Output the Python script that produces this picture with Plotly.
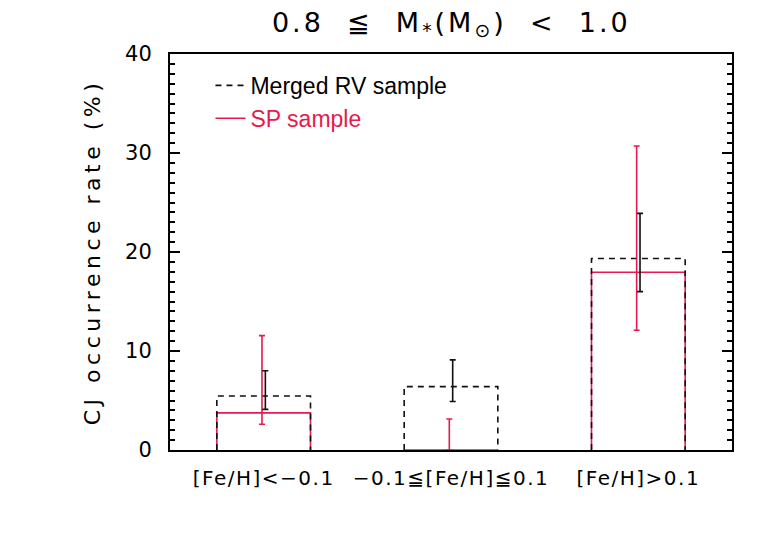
"""CJ occurrence rate vs metallicity, 0.8 <= M* < 1.0."""
import plotly.graph_objects as go

# categories / tick labels
BIN_LABELS = [
    "[Fe/H]&lt;\u22120.1",
    "\u22120.1\u2266[Fe/H]\u22660.1",
    "[Fe/H]&gt;0.1",
]

# Merged RV sample (black dashed)
RV_RATE = [5.45, 6.4, 19.35]
RV_ERR_UP = [2.55, 2.7, 4.55]
RV_ERR_DOWN = [1.35, 1.5, 3.35]

# SP sample (red solid)
SP_RATE = [3.75, 0.0, 17.95]
SP_ERR_UP = [7.8, 3.13, 12.75]
SP_ERR_DOWN = [1.15, 0.0, 5.85]

RED = "#e61a4c"
BLACK = "#111111"
FONT_AX = "DejaVu Sans"
FONT_LEG = "Liberation Sans"

BAR_HALF = 0.25
ERR_SHIFT = 0.009


def _outline(values):
    xs, ys = [], []
    for i, v in enumerate(values):
        c = i + 0.5
        xs += [c - BAR_HALF, c - BAR_HALF, c + BAR_HALF, c + BAR_HALF, None]
        ys += [0, v, v, 0, None]
    return xs, ys


def _wide(text, sp):
    return f"<span style='letter-spacing:{sp}px'>{text}</span>"


centers = [i + 0.5 for i in range(len(BIN_LABELS))]

fig = go.Figure()

sx, sy = _outline(SP_RATE)
fig.add_trace(
    go.Scatter(
        x=sx, y=sy, mode="lines",
        name=f"<span style='color:{RED}'>SP sample</span>",
        line={"color": RED, "width": 1.6},
        legendrank=2,
    )
)
rx, ry = _outline(RV_RATE)
fig.add_trace(
    go.Scatter(
        x=rx, y=ry, mode="lines",
        name="Merged RV sample",
        line={"color": BLACK, "width": 1.6, "dash": "6px,5px"},
        legendrank=1,
    )
)

fig.add_trace(
    go.Scatter(
        x=[c - ERR_SHIFT for c in centers], y=SP_RATE, mode="markers",
        marker={"size": 1, "color": "rgba(0,0,0,0)"},
        error_y={"type": "data", "symmetric": False, "array": SP_ERR_UP,
                 "arrayminus": SP_ERR_DOWN, "color": RED, "thickness": 1.6, "width": 3},
        showlegend=False, hoverinfo="skip",
    )
)
fig.add_trace(
    go.Scatter(
        x=[c + ERR_SHIFT for c in centers], y=RV_RATE, mode="markers",
        marker={"size": 1, "color": "rgba(0,0,0,0)"},
        error_y={"type": "data", "symmetric": False, "array": RV_ERR_UP,
                 "arrayminus": RV_ERR_DOWN, "color": BLACK, "thickness": 1.6, "width": 3},
        showlegend=False, hoverinfo="skip",
    )
)

fig.update_layout(
    width=767,
    height=543,
    template="simple_white",
    paper_bgcolor="white",
    plot_bgcolor="white",
    margin={"l": 162, "r": 43, "t": 46, "b": 101},
    title={
        "text": _wide("0.8  \u2266  M<sub>*</sub>(M<sub>\u2299</sub>)  &lt;  1.0", 3),
        "x": 0.578, "xanchor": "center", "y": 0.974, "yanchor": "middle",
        "font": {"family": FONT_AX, "size": 27, "color": "black"},
    },
    legend={
        "x": 0.072, "y": 0.975, "xanchor": "left", "yanchor": "top",
        "bgcolor": "rgba(0,0,0,0)",
        "font": {"family": FONT_LEG, "size": 23, "color": "black"},
        "tracegroupgap": 0,
    },
    showlegend=True,
)
fig.update_xaxes(
    range=[0, 3],
    tickvals=centers,
    ticktext=[_wide(t, 1.5) for t in BIN_LABELS],
    ticks="",
    showline=True, linecolor="black", linewidth=2, mirror=True,
    showgrid=False, zeroline=False,
    tickfont={"family": FONT_AX, "size": 20, "color": "black"},
    ticklabelstandoff=9,
)
fig.update_yaxes(
    range=[0, 40],
    dtick=10,
    ticks="inside", ticklen=10, tickwidth=1.5, tickcolor="black",
    minor={"dtick": 1, "ticks": "inside", "ticklen": 5, "tickwidth": 1.5, "tickcolor": "black"},
    showline=True, linecolor="black", linewidth=2, mirror="ticks",
    showgrid=False, zeroline=False,
    tickfont={"family": FONT_AX, "size": 21, "color": "black"},
    ticklabelstandoff=12,
    title={"text": _wide("CJ occurrence rate (%)", 4.5), "standoff": 18,
           "font": {"family": FONT_AX, "size": 22, "color": "black"}},
)

fig.write_html("out.html")
